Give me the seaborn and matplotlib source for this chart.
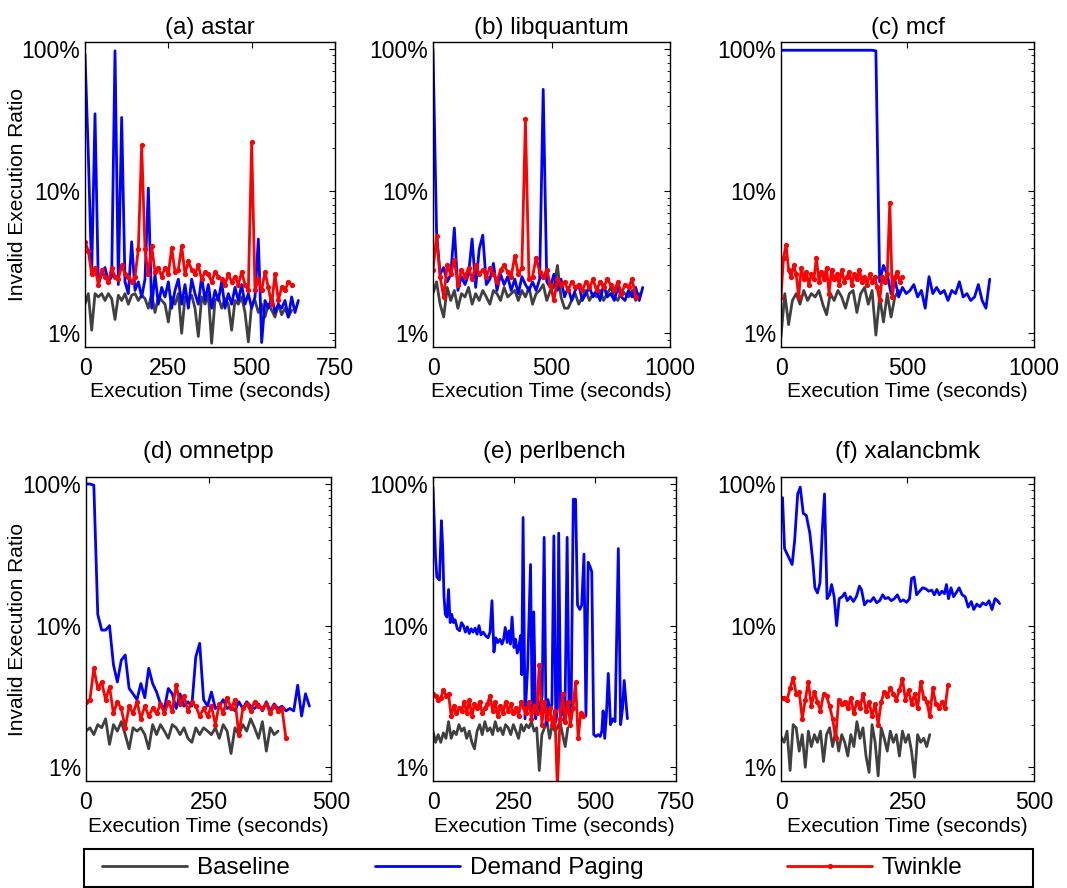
import numpy as np
import matplotlib
matplotlib.use("Agg")
import matplotlib.pyplot as plt
from matplotlib.patches import Rectangle
from matplotlib.ticker import FixedLocator, FuncFormatter, LogLocator, NullFormatter
import seaborn as sns

# ---------------- data (values in percent) ----------------
SERIES = ["Baseline", "Demand Paging", "Twinkle"]

# (a) astar  -- sampled every 10 s
a_step = 10
a_base = [1.6, 1.9, 1.05, 1.9, 1.8, 1.9, 1.7, 1.9, 1.75, 1.25, 1.85, 1.7, 1.9, 1.6, 1.85, 1.9, 1.7, 1.85,
          1.75, 1.5, 1.9, 1.4, 1.8, 1.7, 1.6, 1.2, 1.8, 1.6, 1.9, 1.0, 1.8, 1.7, 1.85, 1.5, 0.95, 1.8,
          1.6, 1.85, 0.85, 1.7, 1.8, 1.5, 1.75, 1.6, 1.05, 1.7, 1.6, 1.8, 1.4, 0.87, 1.6, 1.7, 1.4, 1.6,
          1.3, 1.6, 1.45, 1.3, 1.6, 1.35, 1.5, 1.3, 1.45]
a_dp = [92, 18, 2.6, 35, 2.2, 2.6, 2.9, 2.3, 2.5, 97, 2.2, 33, 2.3, 1.9, 4.4, 2.0, 2.3, 1.8, 2.4, 10.5,
        1.5, 2.6, 1.6, 2.1, 1.8, 2.3, 1.5, 2.0, 2.4, 1.6, 2.2, 1.5, 2.4, 1.9, 1.6, 2.5, 1.7, 2.2, 1.5,
        2.0, 1.7, 2.3, 1.5, 1.9, 1.6, 2.1, 1.7, 2.2, 1.6, 1.9, 1.5, 1.8, 4.6, 0.86, 1.7, 1.5, 1.8, 1.4,
        1.6, 1.5, 1.7, 1.3, 1.8, 1.4, 1.7]
a_tw = [4.4, 3.8, 2.6, 2.9, 2.2, 2.8, 2.5, 2.3, 2.9, 2.5, 2.4, 3.0, 2.6, 2.5, 2.3, 2.5, 3.9, 21, 3.9,
        2.6, 4.1, 2.7, 2.9, 2.5, 2.9, 2.6, 4.0, 2.7, 2.8, 4.1, 2.6, 3.2, 2.8, 2.6, 3.0, 2.4, 2.7, 2.6,
        2.3, 2.7, 2.5, 2.4, 2.2, 2.6, 2.3, 2.5, 2.2, 2.7, 2.2, 2.0, 22, 2.0, 2.4, 2.0, 2.7, 2.1, 1.6,
        2.6, 1.7, 2.1, 2.0, 2.3, 2.2]

# (b) libquantum -- sampled every 15 s
b_step = 15
b_base = [1.9, 2.3, 1.6, 1.3, 2.1, 1.7, 2.0, 1.5, 1.9, 1.8, 2.1, 1.6, 1.9, 1.7, 2.0, 1.8, 1.6, 2.0, 1.9,
          1.7, 2.1, 1.8, 1.9, 2.0, 1.7, 2.0, 1.8, 2.1, 1.6, 1.9, 2.0, 2.2, 1.7, 2.0, 2.1, 3.0, 1.8, 1.5,
          1.5, 1.7, 1.9, 1.6, 1.8, 2.0, 1.7, 1.9, 1.8, 2.0, 1.7, 1.9, 2.1, 1.8, 1.7, 2.0, 1.9, 1.8, 2.0,
          1.7, 1.9]
b_dp = [100, 5.1, 2.6, 2.9, 2.3, 2.6, 5.5, 2.0, 2.5, 2.2, 2.6, 4.6, 2.1, 3.9, 4.9, 2.2, 2.4, 3.1, 2.0,
        2.6, 2.2, 2.5, 2.0, 2.4, 1.9, 2.5, 2.2, 2.0, 2.3, 2.0, 2.4, 52, 2.3, 2.1, 2.6, 2.0, 2.4, 1.8,
        2.1, 1.7, 2.0, 2.2, 1.7, 1.9, 2.1, 1.8, 2.0, 1.7, 2.2, 1.8, 1.9, 1.7, 2.1, 1.8, 1.7, 2.0, 1.8,
        2.1, 1.7, 2.1]
b_tw = [2.8, 4.8, 2.5, 1.8, 3.0, 2.6, 3.3, 2.2, 2.8, 2.5, 2.9, 2.4, 3.0, 2.6, 2.8, 2.5, 2.9, 2.6, 2.3,
        2.8, 3.0, 2.7, 2.5, 3.5, 2.6, 2.9, 32, 2.4, 2.5, 3.4, 2.7, 2.5, 2.8, 2.2, 1.7, 2.4, 2.2, 2.3,
        2.0, 2.3, 2.1, 2.2, 2.0, 2.3, 2.1, 2.4, 2.0, 2.3, 2.1, 2.4, 2.2, 2.0, 2.3, 1.9, 2.2, 2.1, 2.4,
        1.8]

# (c) mcf -- baseline / demand paging every 15 s, twinkle every 10 s
c_step = 15
c_tw_step = 10
c_base = [0.95, 1.9, 1.15, 1.7, 1.9, 1.6, 2.0, 1.7, 1.9, 1.8, 2.0, 1.6, 1.35, 1.9, 1.7, 2.0, 1.8, 1.5,
          1.9, 2.0, 1.4, 1.9, 2.1, 1.6, 2.0, 0.97, 1.8, 1.2, 1.9, 1.3, 1.8, 2.0]
c_dp = [98, 98, 98, 98, 98, 98, 98, 98, 98, 98, 98, 98, 98, 98, 98, 98, 98, 98, 98, 98, 98, 98, 98, 98,
        98, 97, 2.3, 3.0, 2.6, 1.9, 2.4, 1.8, 2.1, 1.9, 2.0, 2.2, 1.8, 2.0, 1.5, 2.5, 1.9, 2.1, 1.9,
        2.0, 1.7, 2.0, 1.9, 2.3, 1.8, 1.9, 1.7, 1.8, 2.2, 1.7, 1.5, 2.4]
c_tw = [1.8, 3.4, 4.2, 2.8, 2.5, 3.0, 2.6, 1.8, 2.9, 2.4, 2.7, 2.2, 2.6, 2.4, 3.4, 2.3, 2.7, 2.4, 2.9,
        1.9, 2.8, 2.4, 2.6, 2.2, 2.8, 2.3, 2.5, 2.7, 2.2, 2.6, 2.4, 2.8, 2.3, 2.5, 2.2, 2.6, 2.3, 2.5,
        2.1, 1.7, 2.5, 2.3, 2.6, 8.3, 1.8, 2.5, 2.7, 2.3, 2.5]

# (d) omnetpp -- sampled every 8 s
d_step = 8
d_base = [1.8, 1.9, 1.7, 2.0, 1.9, 2.2, 1.45, 2.0, 1.8, 2.1, 1.7, 1.35, 1.9, 1.8, 1.9, 1.7, 1.35, 2.0,
          1.7, 2.0, 1.8, 1.6, 2.0, 1.9, 1.7, 1.9, 1.6, 1.5, 1.9, 1.7, 1.9, 1.8, 1.7, 1.9, 1.6, 2.0, 1.8,
          1.25, 1.9, 1.7, 2.0, 1.8, 2.2, 1.9, 1.6, 2.1, 1.3, 1.9, 1.7, 1.8]
d_dp = [100, 100, 98, 12, 9.3, 9.3, 10, 5.3, 4.0, 5.7, 6.2, 3.6, 3.3, 3.0, 3.9, 3.1, 5.0, 3.9, 3.4,
        2.8, 2.6, 3.6, 3.3, 2.6, 3.3, 2.7, 2.9, 2.7, 6.0, 7.5, 3.0, 2.7, 3.4, 2.6, 2.7, 3.0, 2.6, 2.7,
        2.5, 2.9, 2.6, 2.9, 2.7, 2.6, 2.8, 2.5, 2.9, 2.5, 2.8, 2.6, 2.7, 2.5, 2.6, 2.5, 3.8, 2.3, 3.3,
        2.7]
d_tw = [2.9, 3.0, 5.0, 3.6, 4.0, 3.0, 3.7, 2.4, 2.9, 2.6, 1.9, 2.7, 2.4, 2.9, 2.2, 2.7, 2.3, 2.6, 2.4,
        2.8, 2.4, 2.9, 2.5, 3.8, 2.8, 3.2, 2.5, 2.9, 2.7, 2.3, 2.6, 2.3, 2.7, 2.0, 2.8, 2.4, 3.1, 2.6,
        3.0, 1.7, 2.6, 2.8, 2.5, 2.9, 2.7, 2.6, 2.8, 2.4, 2.7, 2.5, 2.6, 1.6]

# (e) perlbench -- baseline / twinkle every 8 s, demand paging as (time, value)
e_step = 8
e_base = [1.8, 1.5, 1.7, 1.5, 1.75, 1.6, 2.1, 1.6, 1.8, 1.7, 2.0, 1.8, 1.9, 1.6, 1.8, 1.5, 1.35, 1.8,
          2.0, 1.7, 2.1, 1.8, 1.9, 1.7, 2.1, 1.8, 1.9, 1.7, 2.0, 1.9, 1.7, 2.0, 1.8, 1.6, 2.0, 1.8, 2.0,
          1.9, 2.1, 1.8, 1.9, 0.95, 1.7, 1.9, 2.1, 1.6, 2.0, 1.8, 1.9, 2.1, 1.7, 1.4, 1.9]
e_dp_points = [(0, 95), (8, 30), (12, 22), (20, 21), (26, 55), (30, 35), (34, 16), (38, 12), (43, 11.5),
               (48, 18), (53, 10.5), (58, 12), (63, 10.5), (68, 11), (75, 9.5), (82, 9.2), (88, 10.5),
               (94, 10), (100, 9.0), (106, 9.8), (112, 8.8), (118, 9.5), (124, 9.0), (130, 9.6),
               (136, 8.7), (142, 10), (148, 8.6), (155, 9.0), (162, 8.5), (170, 8.2), (176, 9.0),
               (182, 15), (188, 6.5), (194, 8.2), (200, 7.6), (207, 8.0), (213, 7.4), (218, 8.0),
               (223, 9.7), (229, 7.6), (234, 9.2), (239, 7.4), (244, 11.5), (250, 7.0), (255, 8.0),
               (260, 6.4), (265, 7.0), (270, 8.5), (274, 4.5), (278, 58), (284, 2.2), (292, 5.0),
               (301, 27), (306, 2.5), (311, 12.5), (317, 2.2), (324, 3.0), (330, 2.5), (337, 3.2),
               (343, 42), (349, 2.0), (355, 3.0), (361, 2.4), (367, 2.8), (373, 43), (379, 2.1),
               (384, 2.6), (388, 45), (394, 2.3), (400, 2.6), (407, 2.1), (414, 42), (420, 2.5),
               (426, 2.2), (433, 78), (440, 78), (446, 14), (453, 13), (459, 14), (466, 32),
               (472, 2.3), (479, 28), (485, 26), (490, 24), (496, 1.7), (503, 1.65), (510, 1.7),
               (516, 1.65), (521, 1.8), (525, 2.5), (530, 1.6), (535, 2.3), (541, 4.6), (548, 2.0),
               (555, 2.2), (562, 2.1), (572, 35), (579, 2.0), (585, 2.6), (590, 4.1), (600, 2.2)]
e_tw = [3.3, 3.2, 3.0, 3.1, 3.5, 3.2, 3.3, 2.3, 2.7, 2.4, 2.6, 2.5, 2.9, 2.4, 3.0, 2.3, 2.8, 2.6, 2.9,
        2.4, 2.6, 2.8, 3.2, 2.5, 2.9, 2.3, 2.7, 2.4, 2.9, 2.5, 2.8, 2.4, 2.6, 2.3, 2.9, 2.6, 2.4, 2.9,
        2.2, 2.7, 2.4, 5.3, 2.0, 2.9, 2.2, 2.6, 2.0, 2.5, 0.7, 2.2, 3.3, 2.1, 2.9, 2.0, 2.6, 4.0, 1.6,
        2.4, 2.3]

# (f) xalancbmk -- baseline / twinkle every 6 s, demand paging as (time, value)
f_step = 6
f_base = [1.65, 1.5, 1.8, 0.95, 2.0, 1.9, 1.3, 1.7, 1.0, 1.8, 1.4, 1.7, 1.5, 1.8, 1.1, 1.7, 1.9, 1.4,
          1.8, 1.3, 1.7, 1.5, 1.2, 1.7, 1.4, 2.1, 1.6, 1.9, 1.2, 0.92, 2.0, 1.5, 0.87, 1.9, 1.6, 1.3,
          1.8, 1.5, 1.7, 1.2, 1.8, 1.5, 1.7, 1.3, 0.85, 1.7, 1.5, 1.6, 1.4, 1.7]
f_dp_points = [(0, 80), (3, 80), (7, 35), (14, 31), (22, 27), (27, 40), (33, 85), (38, 95), (44, 62),
               (50, 60), (57, 45), (63, 28), (67, 18.5), (72, 17), (77, 20), (82, 50), (86, 85),
               (91, 15.5), (96, 16.5), (100, 19.5), (105, 16), (110, 10), (115, 15.5), (121, 16),
               (126, 17), (131, 15), (137, 16), (143, 14.8), (149, 16), (155, 19), (159, 18),
               (165, 14), (171, 15), (177, 14.8), (183, 15.8), (189, 14.5), (195, 15), (201, 16.5),
               (206, 15.5), (212, 15.8), (218, 15), (224, 15.5), (230, 16.5), (236, 14.8),
               (242, 15.2), (248, 14.6), (254, 15.5), (258, 21.5), (263, 22), (268, 16.5),
               (274, 17.5), (280, 18.5), (286, 18.2), (292, 17.5), (298, 17.8), (303, 16.5),
               (308, 18), (313, 16.5), (318, 17.5), (323, 16.8), (327, 19.5), (331, 15.5),
               (336, 18.5), (341, 16), (346, 17), (352, 18.5), (358, 16.5), (364, 16), (370, 13.5),
               (376, 14.8), (381, 13), (387, 14.2), (393, 13.6), (399, 14.5), (405, 14), (411, 15),
               (417, 13), (423, 15.5), (428, 15), (432, 14.3)]
f_tw = [3.1, 3.1, 3.0, 3.6, 4.3, 3.3, 3.4, 2.2, 3.0, 4.0, 2.7, 3.4, 2.9, 2.5, 3.3, 3.2, 2.7, 2.2, 1.6,
        3.0, 2.8, 2.9, 2.6, 3.1, 2.4, 2.9, 2.6, 3.3, 2.5, 2.9, 2.3, 2.8, 2.0, 2.9, 3.4, 3.2, 3.6, 3.3,
        3.0, 3.5, 4.2, 3.0, 3.5, 2.8, 3.3, 2.6, 4.0, 3.1, 2.9, 2.3, 3.6, 2.8, 2.6, 2.9, 2.6, 3.8]

TITLES = ["(a) astar", "(b) libquantum", "(c) mcf", "(d) omnetpp", "(e) perlbench", "(f) xalancbmk"]
XMAX = [750, 1000, 1000, 500, 750, 500]
XTICKS = [[0, 250, 500, 750], [0, 500, 1000], [0, 500, 1000], [0, 250, 500], [0, 250, 500, 750], [0, 250, 500]]
YTICKS = [1, 10, 100]


def uniform(values, step):
    return np.arange(len(values)) * step, np.array(values, dtype=float)


def pairs(points):
    t, v = zip(*points)
    return np.array(t, dtype=float), np.array(v, dtype=float)


panels = [
    (uniform(a_base, a_step), uniform(a_dp, a_step), uniform(a_tw, a_step)),
    (uniform(b_base, b_step), uniform(b_dp, b_step), uniform(b_tw, b_step)),
    (uniform(c_base, c_step), uniform(c_dp, c_step), uniform(c_tw, c_tw_step)),
    (uniform(d_base, d_step), uniform(d_dp, d_step), uniform(d_tw, d_step)),
    (uniform(e_base, e_step), pairs(e_dp_points), uniform(e_tw, e_step)),
    (uniform(f_base, f_step), pairs(f_dp_points), uniform(f_tw, f_step)),
]

# ---------------- style ----------------
sns.set_style("white")
plt.rcParams["font.family"] = ["Liberation Sans", "DejaVu Sans"]
plt.rcParams["axes.linewidth"] = 1.0
plt.rcParams["text.color"] = "black"
plt.rcParams["axes.labelcolor"] = "black"
plt.rcParams["axes.titlecolor"] = "black"
plt.rcParams["legend.labelcolor"] = "black"

COLORS = {"Baseline": "#404040", "Demand Paging": "#0000ff", "Twinkle": "#ff0000"}
W, H = 1067, 888
# axes boxes in pixels: left, right, top, bottom
BOXES = [(85, 335, 42, 347), (433, 670, 42, 347), (781, 1034, 42, 347),
         (86, 331, 477, 781), (433, 676, 477, 781), (781, 1034, 477, 781)]
TITLE_PAD = [6, 6, 6, 14, 14, 14]

fig = plt.figure(figsize=(W / 100, H / 100), dpi=100)
axes = []
for i, (box, series) in enumerate(zip(BOXES, panels)):
    l, r, t, b = box
    ax = fig.add_axes([l / W, (H - b) / H, (r - l) / W, (b - t) / H])
    axes.append(ax)
    for name, (x, y) in zip(SERIES, series):
        kw = dict(marker="o", markersize=3.8, markeredgewidth=0) if name == "Twinkle" else {}
        sns.lineplot(x=x, y=y, ax=ax, color=COLORS[name], linewidth=2.0,
                     estimator=None, sort=False, label=name, legend=False, **kw)
    ax.set_yscale("log")
    ax.set_ylim(0.8, 112)
    ax.set_xlim(0, XMAX[i])
    ax.set_xticks(XTICKS[i])
    ax.yaxis.set_major_locator(FixedLocator(YTICKS))
    ax.yaxis.set_major_formatter(FuncFormatter(lambda v, p: f"{v:g}%"))
    ax.yaxis.set_minor_locator(LogLocator(base=10, subs=np.arange(2, 10)))
    ax.yaxis.set_minor_formatter(NullFormatter())
    ax.tick_params(which="both", direction="in", top=True, right=True, colors="black",
                   labelsize=16.5)
    ax.tick_params(which="major", length=4, width=0.8)
    ax.tick_params(which="minor", length=2.5, width=0.6)
    ax.tick_params(axis="x", pad=7.5)
    ax.tick_params(axis="y", pad=3.5)
    for s in ax.spines.values():
        s.set_color("black")
        s.set_linewidth(1.0)
    ax.set_title(TITLES[i], fontsize=17.5, pad=TITLE_PAD[i], color="black")
    ax.set_xlabel("Execution Time (seconds)", fontsize=15, labelpad=1.5, color="black")
    if i in (0, 3):
        ax.set_ylabel("Invalid Execution Ratio", fontsize=15, color="black")
        ax.yaxis.set_label_coords((27 - l) / (r - l), 0.5)
    else:
        ax.set_ylabel("")

# ---------------- legend ----------------
fig.add_artist(Rectangle((84 / W, 1 / H), 949 / W, 38 / H, transform=fig.transFigure,
                         fill=False, edgecolor="black", linewidth=1.5))
handles = axes[0].get_lines()
LEG_X = [102, 375, 787]
for h, name, xpx in zip(handles, SERIES, LEG_X):
    fig.legend([h], [name], loc="center left", bbox_to_anchor=(xpx / W, (H - 868) / H),
               frameon=False, fontsize=17.5, handlelength=3.5, handletextpad=0.4,
               borderpad=0, borderaxespad=0, numpoints=1, labelcolor="black")

fig.savefig("out.png", dpi=100, facecolor="white")
